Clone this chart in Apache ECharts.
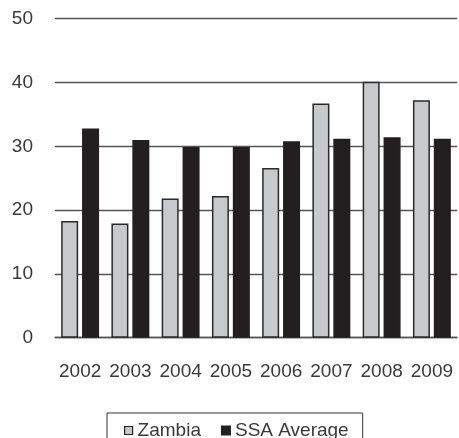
<!DOCTYPE html>
<html><head><meta charset="utf-8">
<script src="https://cdn.jsdelivr.net/npm/echarts@6/dist/echarts.min.js"></script>
<style>html,body{margin:0;padding:0;background:#fff}#c{width:459px;height:438px}</style>
</head><body><div id="c"></div>
<script>
var years = ['2002','2003','2004','2005','2006','2007','2008','2009'];
var zambia = [18.3, 17.9, 21.8, 22.2, 26.6, 36.7, 40.1, 37.2];
var ssaAverage = [32.8, 31.0, 29.9, 29.9, 30.8, 31.2, 31.4, 31.2];
var yTicks = [0, 10, 20, 30, 40, 50];

var chart = echarts.init(document.getElementById('c'), null, {renderer:'canvas'});
var font = 'Liberation Sans, Arial, sans-serif';
chart.setOption({
  animation: false,
  backgroundColor: '#fff',
  grid: {left: 55, right: 2, top: 18.7, bottom: 100.3},
  legend: {
    top: 413, left: 107,
    padding: [8, 14, 14, 17],
    borderColor: '#333', borderWidth: 1,
    icon: 'rect',
    itemWidth: 8, itemHeight: 8, itemGap: 20,
    textStyle: {fontFamily: font, fontSize: 19, color: '#3a3a3a'},
    data: [{name:'Zambia', itemStyle:{borderColor:'#222', borderWidth:1.2}}, {name:'SSA Average'}]
  },
  xAxis: {
    type: 'category', data: years,
    axisLine: {show: true, lineStyle: {color: '#555', width: 1.3}},
    axisTick: {show: false},
    axisLabel: {interval: 0, fontFamily: font, fontSize: 19, color: '#3a3a3a', margin: 25}
  },
  yAxis: {
    type: 'value', min: yTicks[0], max: yTicks[yTicks.length-1], interval: 10,
    axisLine: {show: false}, axisTick: {show: false},
    splitLine: {lineStyle: {color: '#555', width: 1.3}},
    axisLabel: {fontFamily: font, fontSize: 19, color: '#3a3a3a', margin: 22}
  },
  series: [
    {name: 'Zambia', type: 'bar', data: zambia, barWidth: 17, barGap: '23%',
     itemStyle: {color: '#c8c9cb', borderColor: '#2a2a2a', borderWidth: 1.5}},
    {name: 'SSA Average', type: 'bar', data: ssaAverage, barWidth: 17,
     itemStyle: {color: '#231f20', borderColor: '#231f20', borderWidth: 1.5}}
  ]
});
</script>
</body></html>
